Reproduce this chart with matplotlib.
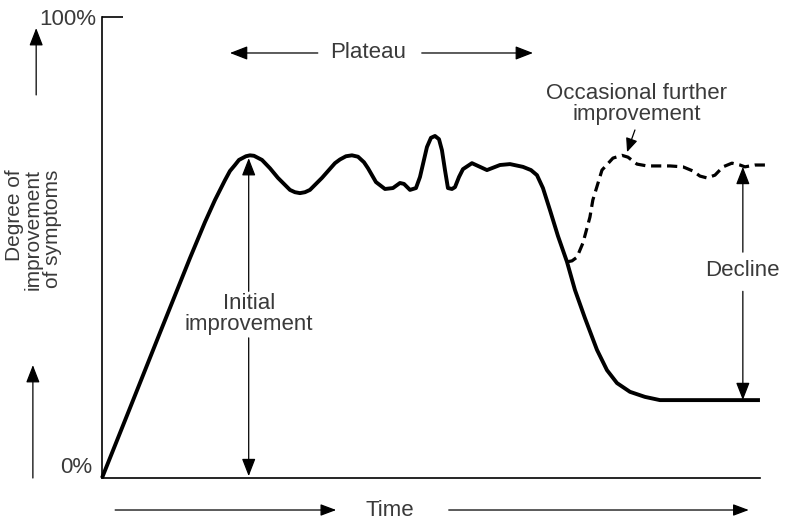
import matplotlib.pyplot as plt

# curva principal (temps 0-100, millora en %)
time_main = [0, 4.26, 8.81, 13.37, 15.65, 17.17, 18.69, 19.45, 20.21, 20.82, 21.88, 22.49,
             23.10, 24.32, 25.53, 26.75, 28.57, 29.33, 30.09, 30.85, 31.61, 33.43, 35.41,
             36.17, 37.08, 37.99, 38.91, 39.82, 40.43, 41.64,
             43.01, 44.22, 45.29, 45.90, 46.81, 47.72, 48.33, 49.39, 50.00, 50.61, 51.22,
             51.67, 52.13, 52.58, 53.19, 53.65, 54.26, 54.86, 56.23, 57.45, 58.51, 60.49,
             62.01, 63.98, 65.20, 66.11, 67.02, 68.09, 69.30, 70.67, 71.88, 73.40, 75.23,
             76.75, 78.27, 80.24, 82.52, 84.80, 90.88, 100]
improv_main = [0, 15.2, 31.5, 47.7, 55.5, 60.3, 64.6, 66.6, 67.9, 69.0, 69.8, 70.0,
               69.9, 69.0, 67.2, 65.1, 62.5, 62.0, 61.8, 62.0, 62.5, 65.1, 68.3,
               69.1, 69.8, 70.0, 69.7, 68.5, 67.2, 64.2,
               62.7, 62.9, 64.0, 63.8, 62.5, 62.9, 65.3, 71.8, 73.8, 74.2, 73.5,
               71.1, 66.8, 62.9, 62.7, 63.1, 65.3, 67.0, 68.3, 67.5, 66.8, 67.9,
               68.1, 67.5, 66.8, 65.7, 62.9, 58.1, 52.5, 46.9, 40.8, 34.7, 27.8,
               23.4, 20.6, 18.7, 17.6, 16.9, 16.9, 16.9]

# millora ocasional (discontinua)
time_extra = [70.67, 71.43, 72.19, 73.10, 74.16, 74.60, 75.99, 77.66, 79.03, 79.94, 81.31,
              82.83, 84.35, 86.32, 88.30, 89.82, 90.88, 91.95, 93.16, 94.38, 95.74, 96.96,
              97.72, 99.24, 101.52]
improv_extra = [46.9, 47.1, 47.9, 51.0, 56.6, 60.3, 66.8, 69.4, 70.0, 69.6, 68.1,
                67.7, 67.7, 67.7, 67.5, 66.6, 65.5, 65.1, 65.7, 67.5, 68.3, 67.9,
                67.5, 67.9, 67.9]

txt_color = '#3a3a3a'
plt.rcParams['font.family'] = ['Liberation Sans', 'DejaVu Sans']

fig = plt.figure(figsize=(7.85, 5.21), dpi=100)
ax = fig.add_axes([0.1299, 0.0825, 0.8382, 0.8848])
ax.set_xlim(0, 100)
ax.set_ylim(0, 100)

ax.plot(time_main, improv_main, color='black', lw=2.8, clip_on=False,
        solid_capstyle='butt', solid_joinstyle='round')
ax.plot(time_extra, improv_extra, color='black', lw=2.3, clip_on=False,
        linestyle=(0, (3.2, 1.8)), dash_joinstyle='round')

# eixos
for s in ['top', 'right']:
    ax.spines[s].set_visible(False)
for s in ['left', 'bottom']:
    ax.spines[s].set_linewidth(1.2)
ax.set_xticks([])
ax.set_yticks([100])
ax.tick_params(axis='y', direction='in', length=15, width=1.2, labelleft=False)

ax.text(-0.8, 99.5, '100%', ha='right', va='center', fontsize=16, color=txt_color)
ax.text(-1.5, 0, '0%', ha='right', va='bottom', fontsize=16, color=txt_color)


def fletxa(x0, y0, x1, y1, lw=0.9, hl=0.9, hw=0.35):
    ax.annotate('', xy=(x1, y1), xytext=(x0, y0), annotation_clip=False,
                arrowprops=dict(arrowstyle='-|>,head_length=%s,head_width=%s' % (hl, hw),
                                color='black', lw=lw, shrinkA=0, shrinkB=0,
                                mutation_scale=12))


# plateau
fletxa(32.8, 92.2, 19.45, 92.2)
fletxa(48.6, 92.2, 65.5, 92.2)
ax.text(40.4, 92.2, 'Plateau', ha='center', va='center', fontsize=16, color=txt_color)

# millora inicial
fletxa(22.3, 40.5, 22.3, 69.4)
fletxa(22.3, 30.4, 22.3, 0.4)
ax.text(22.3, 35.6, 'Initial\nimprovement', ha='center', va='center', fontsize=16,
        color=txt_color, linespacing=1.0)

# declivi
fletxa(97.4, 49.0, 97.4, 67.5)
fletxa(97.4, 40.5, 97.4, 16.9)
ax.text(97.4, 45.1, 'Decline', ha='center', va='center', fontsize=16, color=txt_color)

# millora ocasional
ax.text(81.3, 81.2, 'Occasional further\nimprovement', ha='center', va='center',
        fontsize=16, color=txt_color, linespacing=1.0)
fletxa(81.0, 75.5, 79.8, 70.7, hl=0.7, hw=0.3)

# eix y
ax.text(-10.4, 67.0, 'Degree of\nimprovement\nof symptoms', rotation=90, ha='center',
        va='top', multialignment='right', fontsize=15, color=txt_color, linespacing=1.0)
fletxa(-10.0, 83.1, -10.0, 97.6)
fletxa(-10.5, 0, -10.5, 24.5)

# temps
fletxa(2.0, -6.94, 35.6, -6.94, hl=0.8, hw=0.3)
fletxa(52.7, -6.94, 98.3, -6.94, hl=0.8, hw=0.3)
ax.text(43.8, -6.94, 'Time', ha='center', va='center', fontsize=16, color=txt_color)

plt.savefig('out.png', dpi=100)
